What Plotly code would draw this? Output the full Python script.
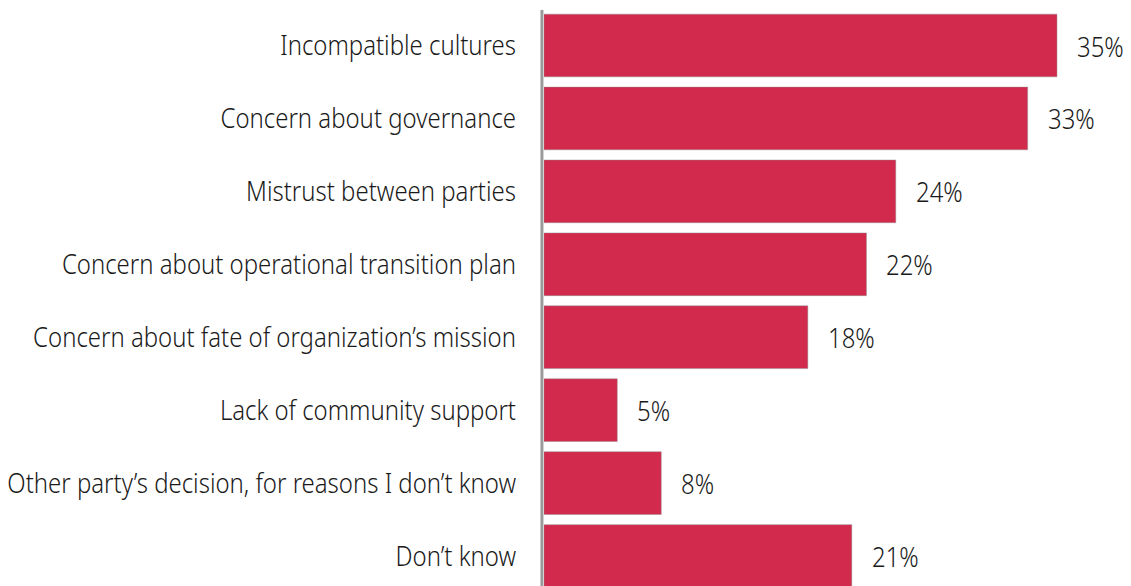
import plotly.graph_objects as go

categories = [
    "Incompatible cultures",
    "Concern about governance",
    "Mistrust between parties",
    "Concern about operational transition plan",
    "Concern about fate of organization’s mission",
    "Lack of community support",
    "Other party’s decision, for reasons I don’t know",
    "Don’t know",
]
values = [35, 33, 24, 22, 18, 5, 8, 21]
value_labels = [f"{v}%" for v in values]

FONT = "Noto Sans, DejaVu Sans, sans-serif"
FONT_SIZE = 28
FONT_WEIGHT = 300
BAR = "#D22A4C"
TEXT = "#1a1a1a"

fig = go.Figure(
    go.Bar(
        x=values,
        y=list(range(len(categories))),
        orientation="h",
        marker=dict(color=BAR, line=dict(color="rgba(140,140,140,0.45)", width=1)),
        width=0.86,
        hoverinfo="skip",
    )
)

for i, (v, lab) in enumerate(zip(values, value_labels)):
    fig.add_annotation(
        x=v, y=i, text=lab, showarrow=False,
        xanchor="left", yanchor="middle", xshift=18,
        font=dict(family=FONT, size=FONT_SIZE, color=TEXT, weight=FONT_WEIGHT),
    )

# vertical baseline just left of the bars
fig.add_shape(
    type="line", xref="paper", yref="paper",
    x0=-0.0035, x1=-0.0035, y0=0, y1=1 - 10 / 586,
    line=dict(color="#9a9a9a", width=3),
)

fig.update_layout(
    width=1131, height=586,
    margin=dict(l=544, r=0, t=0, b=0),
    paper_bgcolor="white", plot_bgcolor="white",
    showlegend=False,
    xaxis=dict(range=[0, 40.05], visible=False),
    yaxis=dict(
        range=[7.411, -0.624],
        tickmode="array",
        tickvals=list(range(len(categories))),
        ticktext=categories,
        tickfont=dict(family=FONT, size=FONT_SIZE, color=TEXT, weight=FONT_WEIGHT),
        ticks="", showgrid=False, zeroline=False, showline=False,
        ticklabelstandoff=27,
        automargin=False,
    ),
)

# Condense the lettering horizontally: category labels keep their right
# edge, value labels keep their left edge.
post = """
(function () {
  var gd = document.getElementById('{plot_id}');
  var SX = 0.855;
  function squeeze(t, side) {
    var cur = t.getAttribute('transform') || '';
    if (t.dataset.sq && t.dataset.sq === cur) return;
    var b = t.getBBox();
    var ax = side === 'right' ? b.x + b.width : b.x;
    var s = cur + ' translate(' + ax + ',0) scale(' + SX + ',1) translate(' + (-ax) + ',0)';
    t.setAttribute('transform', s.trim());
    t.dataset.sq = t.getAttribute('transform');
  }
  function apply() {
    gd.querySelectorAll('.ytick text').forEach(function (t) { squeeze(t, 'right'); });
    gd.querySelectorAll('.annotation-text').forEach(function (t) { squeeze(t, 'left'); });
  }
  apply();
  if (gd.on) gd.on('plotly_afterplot', apply);
})();
"""

fig.write_html("out.html", post_script=post)
